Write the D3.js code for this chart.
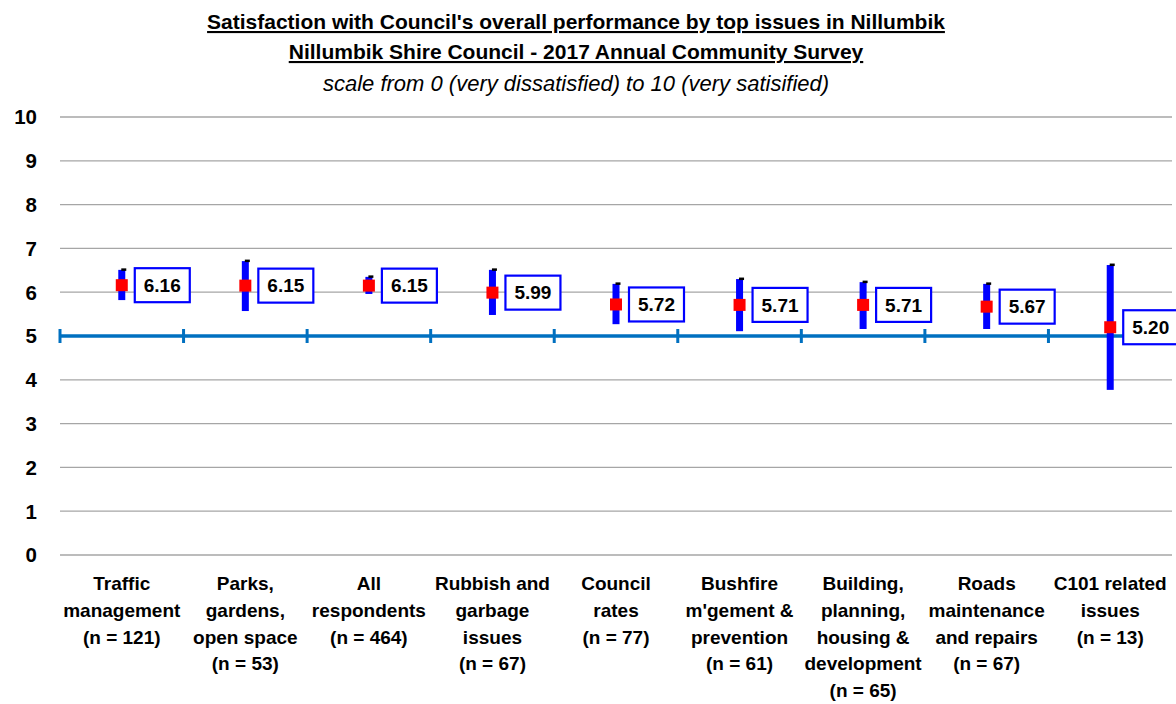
<!DOCTYPE html>
<html><head><meta charset="utf-8">
<script src="https://cdn.jsdelivr.net/npm/d3@7"></script>
<style>body{margin:0;background:#fff;} svg{display:block;}</style>
</head><body>
<svg id="c" width="1176" height="704"></svg>
<script>
const categories = [
  ["Traffic","management","(n = 121)"],
  ["Parks,","gardens,","open space","(n = 53)"],
  ["All","respondents","(n = 464)"],
  ["Rubbish and","garbage","issues","(n = 67)"],
  ["Council","rates","(n = 77)"],
  ["Bushfire","m'gement &","prevention","(n = 61)"],
  ["Building,","planning,","housing &","development","(n = 65)"],
  ["Roads","maintenance","and repairs","(n = 67)"],
  ["C101 related","issues","(n = 13)"]
];
const means = [6.16, 6.15, 6.15, 5.99, 5.72, 5.71, 5.71, 5.67, 5.20];
const upper = [6.51, 6.71, 6.35, 6.51, 6.19, 6.30, 6.23, 6.19, 6.62];
const lower = [5.82, 5.57, 5.96, 5.48, 5.27, 5.11, 5.16, 5.16, 3.77];
const yTicks = [0,1,2,3,4,5,6,7,8,9,10];
const refValue = 5;
const titleLines = ["Satisfaction with Council's overall performance by top issues in Nillumbik",
                    "Nillumbik Shire Council - 2017 Annual Community Survey"];
const subtitle = "scale from 0 (very dissatisfied) to 10 (very satisified)";

const FONT = "'Liberation Sans',Arial,sans-serif";
const svg = d3.select("#c");
const L = 60, R = 1172, T = 117, B = 555;
const x = d3.scaleBand().domain(d3.range(categories.length)).range([L, R]);
const y = d3.scaleLinear().domain([0, 10]).range([B, T]);

// titles
svg.append("text").attr("x", 576).attr("y", 29).attr("text-anchor","middle")
  .attr("font-family", FONT).attr("font-weight","bold").attr("font-size", 21)
  .attr("text-decoration","underline").text(titleLines[0]);
svg.append("text").attr("x", 576).attr("y", 59).attr("text-anchor","middle")
  .attr("font-family", FONT).attr("font-weight","bold").attr("font-size", 21)
  .attr("text-decoration","underline").text(titleLines[1]);
svg.append("text").attr("x", 576).attr("y", 91).attr("text-anchor","middle")
  .attr("font-family", FONT).attr("font-style","italic").attr("font-size", 22)
  .text(subtitle);

// gridlines
svg.append("g").selectAll("line").data(yTicks).join("line")
  .attr("x1", L).attr("x2", R).attr("y1", d => y(d)).attr("y2", d => y(d))
  .attr("stroke", "#a6a6a6").attr("stroke-width", 1.3);

// y labels
svg.append("g").selectAll("text").data(yTicks).join("text")
  .attr("x", 37).attr("y", d => y(d)).attr("dy", "0.36em").attr("text-anchor","end")
  .attr("font-family", FONT).attr("font-weight","bold").attr("font-size", 20.5)
  .text(d => d);

// reference line with ticks
svg.append("line").attr("x1", L).attr("x2", R).attr("y1", y(refValue)).attr("y2", y(refValue))
  .attr("stroke", "#0070C0").attr("stroke-width", 3.5);
const bounds = d3.range(categories.length).map(i => x(i));
svg.append("g").selectAll("line").data(bounds).join("line")
  .attr("x1", d => d).attr("x2", d => d).attr("y1", y(refValue) - 7).attr("y2", y(refValue) + 7)
  .attr("stroke", "#0070C0").attr("stroke-width", 3);

const cx = i => x(i) + x.bandwidth() / 2;

// error bars
const g = svg.append("g");
g.selectAll("rect.err").data(means).join("rect").attr("class","err")
  .attr("x", (d,i) => cx(i) - 3.5).attr("width", 7)
  .attr("y", (d,i) => y(upper[i])).attr("height", (d,i) => y(lower[i]) - y(upper[i]))
  .attr("fill", "#0000FF");
g.selectAll("rect.cap").data(means).join("rect").attr("class","cap")
  .attr("x", (d,i) => cx(i) - 0.5).attr("width", 5)
  .attr("y", (d,i) => y(upper[i]) - 1.5).attr("height", 2.5)
  .attr("fill", "#000");
g.selectAll("rect.mk").data(means).join("rect").attr("class","mk")
  .attr("x", (d,i) => cx(i) - 6).attr("width", 12)
  .attr("y", d => y(d) - 6).attr("height", 12)
  .attr("fill", "#FF0000");

// value labels
const lab = svg.append("g").selectAll("g").data(means).join("g")
  .attr("transform", (d,i) => `translate(${cx(i) + 13},${y(d)})`);
lab.append("rect").attr("x", 0).attr("y", -17).attr("width", 55).attr("height", 34)
  .attr("fill", "#fff").attr("stroke", "#0000FF").attr("stroke-width", 2.2);
lab.append("text").attr("x", 27.5).attr("y", 0).attr("dy", "0.36em").attr("text-anchor","middle")
  .attr("font-family", FONT).attr("font-weight","bold").attr("font-size", 19)
  .text(d => d.toFixed(2));

// category labels
const cg = svg.append("g").selectAll("text").data(categories).join("text")
  .attr("x", (d,i) => cx(i)).attr("y", 590).attr("text-anchor","middle")
  .attr("font-family", FONT).attr("font-weight","bold").attr("font-size", 19);
cg.selectAll("tspan").data(d => d).join("tspan")
  .attr("x", function() { return d3.select(this.parentNode).attr("x"); })
  .attr("dy", (d,j) => j === 0 ? 0 : 26.8)
  .text(d => d);
</script>
</body></html>
